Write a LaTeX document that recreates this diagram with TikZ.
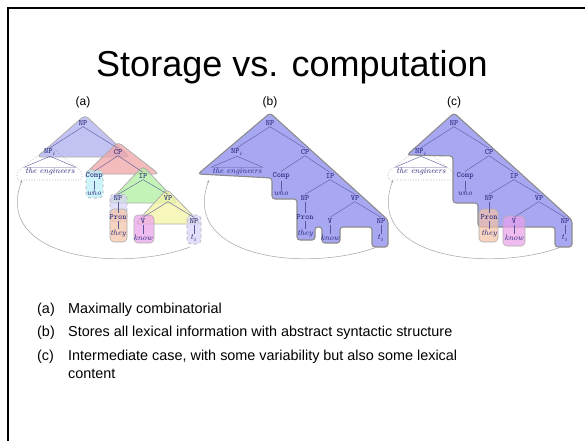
\documentclass[tikz,border=0pt]{standalone}
\usepackage{fontspec}
\newfontfamily\sansfont{Liberation Sans}
\usetikzlibrary{arrows.meta}
\definecolor{navy}{RGB}{35,35,120}
\definecolor{bord}{RGB}{140,140,140}
\definecolor{bigblue}{RGB}{168,168,242}
\definecolor{tblue}{RGB}{175,175,240}
\definecolor{tred}{RGB}{240,165,165}
\definecolor{tgreen}{RGB}{175,240,160}
\definecolor{tyellow}{RGB}{245,245,165}
\definecolor{tcyan}{RGB}{185,240,250}
\definecolor{tlav}{RGB}{215,210,248}
\definecolor{torange}{RGB}{245,195,165}
\definecolor{tmag}{RGB}{235,160,235}
\tikzset{
  lab/.style={font=\fontsize{8}{9}\selectfont\ttfamily, text=navy, inner sep=1pt},
  leaf/.style={font=\fontsize{8}{9}\selectfont\itshape, text=navy, inner sep=1pt},
  edge/.style={draw=navy!75, line width=0.4pt},
  tri/.style={draw=bord!70, line width=0.8pt, rounded corners=4pt, fill opacity=0.75},
  dbox/.style={draw=bord!70, dashed, line width=0.6pt, rounded corners=4pt, fill opacity=0.7},
  sbox/.style={draw=bord!70, line width=0.6pt, rounded corners=4pt, fill opacity=0.7},
  dottri/.style={draw=bord, dotted, line width=0.6pt, rounded corners=3pt},
  big/.style={draw=bord, line width=1.1pt, rounded corners=3pt, fill=bigblue},
  arc/.style={draw=bord!80, line width=0.5pt, -{Stealth[length=3pt,width=2.5pt]}},
  title/.style={font=\sansfont\fontsize{36}{40}\selectfont, anchor=base},
  sub/.style={font=\sansfont\fontsize{12}{14}\selectfont},
  item/.style={font=\sansfont\fontsize{14.4}{17}\selectfont, anchor=base west, inner sep=0pt},
}
\newcommand\treebody[1]{%
  \node[lab] (#1r) at (0,0) {NP};
  \node[lab] (#1npi) at (-33,29) {NP$_i$};
  \node[lab] (#1cp) at (35,29) {CP};
  \node[leaf] (#1eng) at (-33,49) {the engineers};
  \node[lab] (#1comp) at (11,53) {Comp};
  \node[leaf] (#1who) at (11,70) {who};
  \node[lab] (#1ip) at (60,53) {IP};
  \node[lab] (#1np) at (35,75) {NP};
  \node[lab] (#1vp) at (85,75) {VP};
  \node[lab] (#1pron) at (35,94) {Pron};
  \node[leaf] (#1they) at (35,111) {they};
  \node[lab] (#1v) at (60,98) {V};
  \node[leaf] (#1know) at (60,115) {know};
  \node[lab] (#1npt) at (111,98) {NP};
  \node[leaf] (#1ti) at (111,115) {$t_i$};
  \draw[edge] (#1r.south) -- (#1npi.north);
  \draw[edge] (#1r.south) -- (#1cp.north);
  \draw[edge] (#1npi.south) -- (#1eng.north west) -- (#1eng.north east) -- cycle;
  \draw[edge] (#1cp.south) -- (#1comp.north);
  \draw[edge] (#1cp.south) -- (#1ip.north);
  \draw[edge] (#1comp.south) -- (#1who.north);
  \draw[edge] (#1ip.south) -- (#1np.north);
  \draw[edge] (#1ip.south) -- (#1vp.north);
  \draw[edge] (#1np.south) -- (#1pron.north);
  \draw[edge] (#1pron.south) -- (#1they.north);
  \draw[edge] (#1vp.south) -- (#1v.north);
  \draw[edge] (#1vp.south) -- (#1npt.north);
  \draw[edge] (#1v.south) -- (#1know.north);
  \draw[edge] (#1npt.south) -- (#1ti.north);
  \coordinate (#1arcs) at (107,124);
  \coordinate (#1arce) at (-61,57);
  \draw[arc] (#1arcs) .. controls (37,150) and (-90,135) .. (#1arce);
}
\begin{document}
\begin{tikzpicture}[x=1pt,y=-1pt]
\useasboundingbox (0,0) rectangle (585,440);
\fill[white] (0,0) rectangle (585,440);
\draw[line width=2.2pt] (8.2,441) -- (8.2,8.3) -- (586,8.3);
\node[title] (ttl) at (292,76) {Storage vs. computation};
\node[sub] (la) at (83,102) {(a)};
\node[sub] (lb) at (270,102) {(b)};
\node[sub] (lc) at (454,102) {(c)};
% (a)
\begin{scope}[shift={(83,123)}]
  \draw[tri, fill=tblue] (2,-8) -- (-46,34) -- (47,34) -- cycle;
  \draw[tri, fill=tred] (35,19) -- (2,51) -- (76,51) -- cycle;
  \draw[dbox, fill=tcyan] (3,47) rectangle (20,75);
  \draw[tri, fill=tgreen] (60,43) -- (25,80) -- (95,80) -- cycle;
  \draw[tri, fill=tyellow] (84,66) -- (52,101) -- (118,101) -- cycle;
  \draw[dbox, fill=tlav] (27,71) rectangle (44,99);
  \draw[sbox, fill=torange] (27,86) rectangle (44,119);
  \draw[sbox, fill=tmag] (51,92) rectangle (71,120);
  \draw[dbox, fill=tlav] (104,92) rectangle (118,121);
  \draw[dottri] (-33,23) -- (-66,49) -- (-66,57) -- (-1,57) -- (-1,49) -- cycle;
  \treebody{a}
\end{scope}
% (b)
\begin{scope}[shift={(270,123)}]
  \draw[big] (0,-10) -- (-72,51) -- (2,55) -- (2,76) -- (27,76) -- (27,117) -- (45,117) -- (45,104) -- (52,104) -- (52,120) -- (70,120) -- (70,104) -- (102,104) -- (102,124) -- (118,124) -- (118,97) -- cycle;
  \treebody{b}
\end{scope}
% (c)
\begin{scope}[shift={(454,123)}]
  \draw[dottri] (-33,23) -- (-66,49) -- (-66,57) -- (-1,57) -- (-1,49) -- cycle;
  \draw[big] (0,-10) -- (-47,32) -- (-1,33) -- (-1,80) -- (24,80) -- (24,104) -- (101,104) -- (101,124) -- (118,124) -- (118,97) -- cycle;
  \draw[sbox, fill=torange] (25,86) rectangle (44,119);
  \draw[sbox, fill=tmag] (49,93) rectangle (71,123);
  \treebody{c}
\end{scope}
% list
\node[item] (ia) at (37,313) {(a)};
\node[item] (ta) at (68,313) {Maximally combinatorial};
\node[item] (ib) at (37,336) {(b)};
\node[item] (tb) at (68,336) {Stores all lexical information with abstract syntactic structure};
\node[item] (ic) at (37,360) {(c)};
\node[item] (tc) at (68,360) {Intermediate case, with some variability but also some lexical};
\node[item] (tc2) at (68,378) {content};
\end{tikzpicture}
\end{document}
